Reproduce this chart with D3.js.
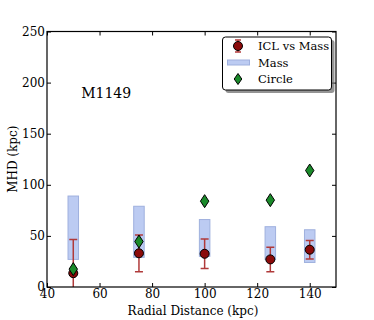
<!DOCTYPE html>
<html><head><meta charset="utf-8">
<script src="https://cdn.jsdelivr.net/npm/d3@7"></script>
<style>body{margin:0;background:#fff;} svg{display:block;}</style>
</head><body>
<svg id="c" width="374" height="320"></svg>
<script>
const xPos = [50, 75, 100, 125, 140];
const massLow = [27, 29, 30, 27, 24];
const massHigh = [89, 79, 66, 59, 56];
const iclVal = [13.5, 33, 32.5, 27, 36.5];
const iclErr = [33, 18, 14.5, 12, 9];
const circleVal = [17.5, 44.5, 84, 85, 114];
const xTicks = [40, 60, 80, 100, 120, 140];
const yTicks = [0, 50, 100, 150, 200, 250];
const title = "M1149";
const legendLabels = ["ICL vs Mass", "Mass", "Circle"];

const svg = d3.select("#c");
const L = 47, R = 336, T = 31.5, B = 287;
const x = d3.scaleLinear().domain([40, 150]).range([L, R]);
const y = d3.scaleLinear().domain([0, 250]).range([B, T]);
const font = "'DejaVu Serif', serif";

const defs = svg.append("defs");
defs.append("clipPath").attr("id", "clip").append("rect")
  .attr("x", L).attr("y", T).attr("width", R - L).attr("height", B - T);

const plot = svg.append("g").attr("clip-path", "url(#clip)");

// Mass rectangles
const bw = 4;
plot.selectAll("rect.mass").data(xPos).join("rect")
  .attr("x", (d) => x(d - bw / 2))
  .attr("width", (d) => x(d + bw / 2) - x(d - bw / 2))
  .attr("y", (d, i) => y(massHigh[i]))
  .attr("height", (d, i) => y(massLow[i]) - y(massHigh[i]))
  .attr("fill", "#bccbf2").attr("stroke", "#9fb0de").attr("stroke-width", 1);

// error bars
const ec = "#b03a3a";
const eg = plot.append("g").attr("stroke", ec).attr("stroke-width", 1.5);
xPos.forEach((d, i) => {
  const lo = y(iclVal[i] - iclErr[i]), hi = y(iclVal[i] + iclErr[i]);
  eg.append("line").attr("x1", x(d)).attr("x2", x(d)).attr("y1", lo).attr("y2", hi);
  eg.append("line").attr("x1", x(d) - 4).attr("x2", x(d) + 4).attr("y1", lo).attr("y2", lo);
  eg.append("line").attr("x1", x(d) - 4).attr("x2", x(d) + 4).attr("y1", hi).attr("y2", hi);
});

// ICL circles
plot.selectAll("circle.icl").data(xPos).join("circle")
  .attr("cx", (d) => x(d)).attr("cy", (d, i) => y(iclVal[i])).attr("r", 4.5)
  .attr("fill", "#8b0a0a").attr("stroke", "#000").attr("stroke-width", 1);

// Circle diamonds
const diamond = (cx, cy, h = 6.5, w = 4.2) => `M${cx},${cy - h}L${cx + w},${cy}L${cx},${cy + h}L${cx - w},${cy}Z`;
plot.selectAll("path.circ").data(xPos).join("path")
  .attr("d", (d, i) => diamond(x(d), y(circleVal[i])))
  .attr("fill", "#1a8a2a").attr("stroke", "#000").attr("stroke-width", 1);

// frame
svg.append("rect").attr("x", L).attr("y", T).attr("width", R - L).attr("height", B - T)
  .attr("fill", "none").attr("stroke", "#000").attr("stroke-width", 1.2);

// axes
const xa = svg.append("g").attr("transform", `translate(0,${B})`)
  .call(d3.axisBottom(x).tickValues(xTicks).tickSize(-4).tickPadding(4));
const xt = svg.append("g").attr("transform", `translate(0,${T})`)
  .call(d3.axisTop(x).tickValues(xTicks).tickSize(-4).tickFormat(""));
const ya = svg.append("g").attr("transform", `translate(${L},0)`)
  .call(d3.axisLeft(y).tickValues(yTicks).tickSize(-4).tickPadding(2));
const yr = svg.append("g").attr("transform", `translate(${R},0)`)
  .call(d3.axisRight(y).tickValues(yTicks).tickSize(-4).tickFormat(""));
[xa, xt, ya, yr].forEach(g => {
  g.select(".domain").remove();
  g.selectAll("line").attr("stroke", "#000");
  g.selectAll("text").attr("font-family", font).attr("font-size", 12).attr("fill", "#000");
});
xa.selectAll("text").attr("dy", "0.55em");
ya.selectAll("text").attr("dy", "0.3em");

// labels
svg.append("text").attr("x", 193).attr("y", 315).attr("text-anchor", "middle")
  .attr("font-family", font).attr("font-size", 12).text("Radial Distance (kpc)");
svg.append("text").attr("transform", `translate(17,${(T + B) / 2}) rotate(-90)`)
  .attr("text-anchor", "middle").attr("font-family", font).attr("font-size", 12).text("MHD (kpc)");
svg.append("text").attr("x", x(53)).attr("y", y(185)).attr("font-family", font)
  .attr("font-size", 14).text(title);

// legend
const lg = svg.append("g");
lg.append("rect").attr("x", 225.5).attr("y", 40).attr("width", 109).attr("height", 53).attr("rx", 3)
  .attr("fill", "#666").attr("opacity", 0.7);
lg.append("rect").attr("x", 222.5).attr("y", 37).attr("width", 109).attr("height", 53).attr("rx", 3)
  .attr("fill", "#fff").attr("stroke", "#000").attr("stroke-width", 1);
const ly = [46, 62.5, 79];
legendLabels.forEach((t, i) => {
  lg.append("text").attr("x", 258).attr("y", ly[i]).attr("dy", "0.35em")
    .attr("font-family", font).attr("font-size", 11.5).text(t);
});
const mx = 238;
lg.append("line").attr("x1", mx).attr("x2", mx).attr("y1", ly[0] - 6).attr("y2", ly[0] + 6).attr("stroke", ec).attr("stroke-width", 1.5);
lg.append("line").attr("x1", mx - 3).attr("x2", mx + 3).attr("y1", ly[0] - 6).attr("y2", ly[0] - 6).attr("stroke", ec).attr("stroke-width", 1.5);
lg.append("line").attr("x1", mx - 3).attr("x2", mx + 3).attr("y1", ly[0] + 6).attr("y2", ly[0] + 6).attr("stroke", ec).attr("stroke-width", 1.5);
lg.append("circle").attr("cx", mx).attr("cy", ly[0]).attr("r", 4.5).attr("fill", "#8b0a0a").attr("stroke", "#000");
lg.append("rect").attr("x", 227.5).attr("y", ly[1] - 2.5).attr("width", 22).attr("height", 5)
  .attr("fill", "#bccbf2").attr("stroke", "#9fb0de");
lg.append("path").attr("d", diamond(mx, ly[2], 5.5, 3.8)).attr("fill", "#1a8a2a").attr("stroke", "#000");
</script>
</body></html>
